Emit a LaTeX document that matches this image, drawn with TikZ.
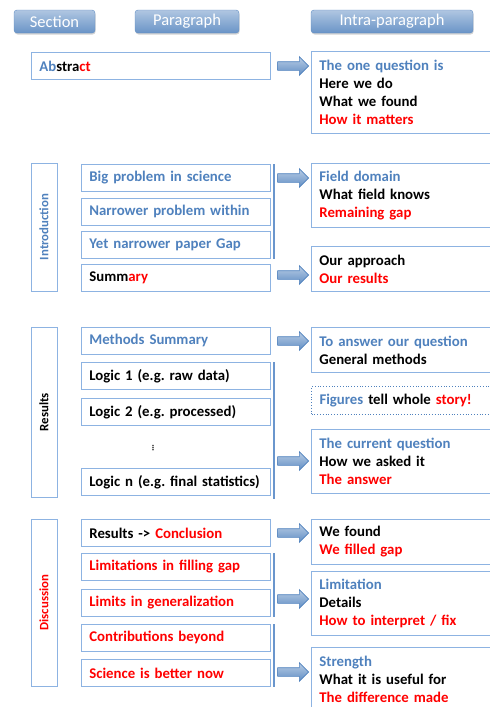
\documentclass[tikz,border=0pt]{standalone}
\usepackage{fontspec}
\setmainfont{Carlito}
\newfontfamily\symfont{DejaVu Sans}
\usepackage{tikz}
\usetikzlibrary{shapes.arrows}
\usetikzlibrary{shadows}
\definecolor{txtblue}{HTML}{4F81BD}
\definecolor{boxblue}{HTML}{8DB3E2}
\definecolor{barblue}{HTML}{6A96CD}
\newcommand{\bl}[1]{\textcolor{txtblue}{#1}}
\newcommand{\rd}[1]{\textcolor{red}{#1}}
\frenchspacing
\tikzstyle{every node}=[font=\fontsize{14.8}{18}\selectfont\bfseries]
\tikzset{head/.style={draw=txtblue!90, rounded corners=3pt, top color=txtblue!45,
      bottom color=txtblue!85, drop shadow={opacity=0.35, shadow xshift=0.6pt, shadow yshift=-1.5pt},
      text=white, font=\fontsize{16.5}{18}\selectfont, minimum height=23pt, inner sep=0pt},
  sec/.style={draw=boxblue, line width=0.8pt, rotate=90, minimum height=26pt,
      font=\fontsize{12.8}{14}\selectfont\bfseries},
  para/.style={draw=boxblue, line width=0.8pt, anchor=north west, text width=173pt,
      inner xsep=8pt, inner ysep=0pt, align=left, minimum height=27pt},
  intra/.style={para, text width=175pt},
  bar/.style={draw=barblue, line width=1.5pt},
  fat/.style={single arrow, draw=txtblue, line width=0.6pt, top color=txtblue!40,
      bottom color=txtblue!90, minimum height=31pt, inner sep=4pt,
      single arrow head extend=5pt, single arrow head indent=0pt}}

\begin{document}
\begin{tikzpicture}[x=1pt, y=-1pt]
		\useasboundingbox (0,0) rectangle (490,707);
		\clip (0,0) rectangle (490,707);
		% headers
		\node[head, minimum width=81pt] (hsec) at (54.5,21.5) {Section};
		\node[head, minimum width=104pt] (hpar) at (187,21.5) {Paragraph};
		\node[head, minimum width=162pt] (hintra) at (392,21.5) {Intra-paragraph};
		% abstract
		\node[para, text width=223pt] (abs) at (31,52) {\bl{Ab}stra\rd{ct}};
		\node[intra, minimum height=82pt] (q0) at (311,51) {\bl{The one question is}\\Here we do\\What we found\\\rd{How it matters}};
		\node[fat] (a0) at (291,66) {};
		% introduction
		\node[sec, minimum width=128pt, text=txtblue] (intro) at (44,227) {Introduction};
		\node[para, text=txtblue] (bigp) at (81,164) {Big problem in science};
		\node[para, text=txtblue] (narp) at (81,197.5) {Narrower problem within};
		\node[para, text=txtblue] (yetp) at (81,231) {Yet narrower paper Gap};
		\node[para] (summ) at (81,264) {Summ\rd{ary}};
		\draw[bar] ([xshift=3pt]bigp.north east) -- ([xshift=3pt]yetp.south east);
		\node[intra, minimum height=64pt] (q1) at (311,163) {\bl{Field domain}\\What field knows\\\rd{Remaining gap}};
		\node[intra, minimum height=45pt] (q2) at (311,246) {Our approach\\\rd{Our results}};
		\node[fat] (a1) at (291,178) {};
		\node[fat] (a2) at (291,275) {};
		% results
		\node[sec, minimum width=170pt] (res) at (44,412) {Results};
		\node[para, text=txtblue] (meth) at (81,327) {Methods Summary};
		\node[para] (log1) at (81,362) {Logic 1 (e.g. raw data)};
		\node[para] (log2) at (81,398) {Logic 2 (e.g. processed)};
		\node (dots) at (153,448) {\symfont\fontsize{7}{7}\selectfont ⋮};
		\node[para] (logn) at (81,468) {Logic n (e.g. final statistics)};
		\draw[bar] ([xshift=3pt]log1.north east) -- ([xshift=3pt,yshift=-3pt]logn.south east);
		\node[intra, minimum height=45pt] (q3) at (311,327) {\bl{To answer our question}\\General methods};
		\node[intra, minimum height=28pt, draw=txtblue, dotted, line width=1pt] (q4) at (311,386) {\bl{Figures} tell whole \rd{story!}};
		\node[intra, minimum height=64pt] (q5) at (311,429) {\bl{The current question}\\How we asked it\\\rd{The answer}};
		\node[fat] (a3) at (291,341) {};
		\node[fat] (a4) at (291,461) {};
		% discussion
		\node[sec, minimum width=167pt, text=red] (disc) at (44,602.5) {Discussion};
		\node[para] (conc) at (81,519) {Results -> \rd{Conclusion}};
		\node[para, text=red] (limg) at (81,553) {Limitations in filling gap};
		\node[para, text=red] (limt) at (81,589) {Limits in generalization};
		\node[para, text=red] (cont) at (81,624) {Contributions beyond};
		\node[para, text=red] (sci) at (81,659) {Science is better now};
		\draw[bar] ([xshift=3pt]limg.north east) -- ([xshift=3pt]limt.south east);
		\draw[bar] ([xshift=3pt]cont.north east) -- ([xshift=3pt]sci.south east);
		\node[intra, minimum height=45pt] (q6) at (311,519) {We found\\\rd{We filled gap}};
		\node[intra, minimum height=64pt] (q7) at (311,571) {\bl{Limitation}\\Details\\\rd{How to interpret / fix}};
		\node[intra, minimum height=64pt] (q8) at (311,647) {\bl{Strength}\\What it is useful for\\\rd{The difference made}};
		\node[fat] (a5) at (291,533) {};
		\node[fat] (a6) at (291,599) {};
		\node[fat] (a7) at (291,672) {};
\end{tikzpicture}
\end{document}
